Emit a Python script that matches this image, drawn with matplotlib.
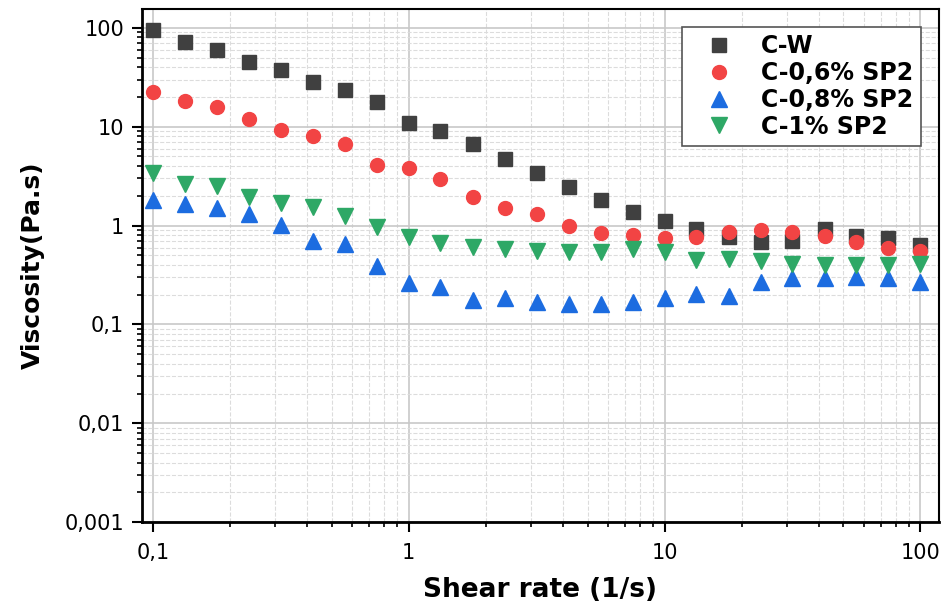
import matplotlib.pyplot as plt
from matplotlib.ticker import LogLocator, FixedLocator, FixedFormatter, NullFormatter

plt.rcParams['font.family'] = ['DejaVu Sans']

# shear rate (1/s)
shear = [0.1, 0.133, 0.178, 0.237, 0.316, 0.422, 0.562, 0.75, 1.0, 1.33, 1.78, 2.37, 3.16,
         4.22, 5.62, 7.5, 10, 13.3, 17.8, 23.7, 31.6, 42.2, 56.2, 75, 100]

# viscosity (Pa.s)
c_w = [94.8, 72.7, 59.5, 45.7, 37.6, 28.3, 23.5, 17.6, 11.0, 9.04, 6.63, 4.75, 3.41,
       2.46, 1.82, 1.37, 1.10, 0.92, 0.774, 0.684, 0.705, 0.918, 0.787, 0.751, 0.643]
c_06 = [22.7, 18.2, 15.7, 11.9, 9.26, 8.11, 6.68, 4.10, 3.79, 2.96, 1.93, 1.51, 1.31,
        0.984, 0.837, 0.798, 0.745, 0.762, 0.863, 0.897, 0.870, 0.792, 0.679, 0.596, 0.555]
c_08 = [1.80, 1.64, 1.50, 1.32, 1.01, 0.70, 0.648, 0.39, 0.261, 0.238, 0.177, 0.184, 0.167,
        0.162, 0.161, 0.168, 0.183, 0.202, 0.196, 0.266, 0.292, 0.298, 0.303, 0.298, 0.268]
c_1 = [3.41, 2.61, 2.54, 1.96, 1.71, 1.54, 1.25, 0.962, 0.774, 0.669, 0.609, 0.581, 0.555,
       0.546, 0.542, 0.573, 0.538, 0.450, 0.457, 0.440, 0.407, 0.401, 0.401, 0.401, 0.407]

x_ticks = [0.1, 1, 10, 100]
x_labels = ['0,1', '1', '10', '100']
y_ticks = [0.001, 0.01, 0.1, 1, 10, 100]
y_labels = ['0,001', '0,01', '0,1', '1', '10', '100']

fig = plt.figure(figsize=(9.43, 6.05), dpi=100)
ax = fig.add_axes([0.1506, 0.137, 0.845, 0.848])

ax.plot(shear, c_w, 's', color='#404040', ms=10, label='C-W', zorder=3)
ax.plot(shear, c_06, 'o', color='#f24444', ms=10, label='C-0,6% SP2', zorder=3)
ax.plot(shear, c_08, '^', color='#1c6ce0', ms=12, label='C-0,8% SP2', zorder=3)
ax.plot(shear, c_1, 'v', color='#2ea866', ms=12, label='C-1% SP2', zorder=3)

ax.set_xscale('log')
ax.set_yscale('log')
ax.set_xlim(0.0906, 118)
ax.set_ylim(0.001, 155)

ax.xaxis.set_major_locator(FixedLocator(x_ticks))
ax.xaxis.set_major_formatter(FixedFormatter(x_labels))
ax.yaxis.set_major_locator(FixedLocator(y_ticks))
ax.yaxis.set_major_formatter(FixedFormatter(y_labels))
ax.xaxis.set_minor_locator(LogLocator(base=10, subs=range(2, 10)))
ax.yaxis.set_minor_locator(LogLocator(base=10, subs=range(2, 10)))
ax.xaxis.set_minor_formatter(NullFormatter())
ax.yaxis.set_minor_formatter(NullFormatter())

ax.grid(True, which='major', color='#c8c8c8', lw=1.2, ls='-', zorder=0)
ax.grid(True, which='minor', color='#dcdcdc', lw=0.8, ls='--', zorder=0)

ax.tick_params(which='major', direction='out', length=7, width=1.5, labelsize=15, color='black')
ax.tick_params(which='minor', direction='out', length=3.5, width=1.2, color='black')
ax.tick_params(axis='x', pad=8)
ax.tick_params(axis='y', pad=6)

for side in ['left', 'bottom']:
    ax.spines[side].set_linewidth(2)
for side in ['top', 'right']:
    ax.spines[side].set_linewidth(1.5)

ax.set_xlabel('Shear rate (1/s)', fontsize=19, fontweight='bold', labelpad=10)
ax.set_ylabel('Viscosity(Pa.s)', fontsize=18, fontweight='bold', labelpad=14)

leg = ax.legend(loc='upper right', bbox_to_anchor=(0.977, 0.965), borderaxespad=0,
                fancybox=False, edgecolor='#555555', framealpha=1,
                prop={'size': 17, 'weight': 'bold'},
                handletextpad=0.55, borderpad=0.3, labelspacing=0.12, handlelength=2.5)
leg.get_frame().set_linewidth(1.2)

plt.savefig('out.png', dpi=100)
plt.close()
